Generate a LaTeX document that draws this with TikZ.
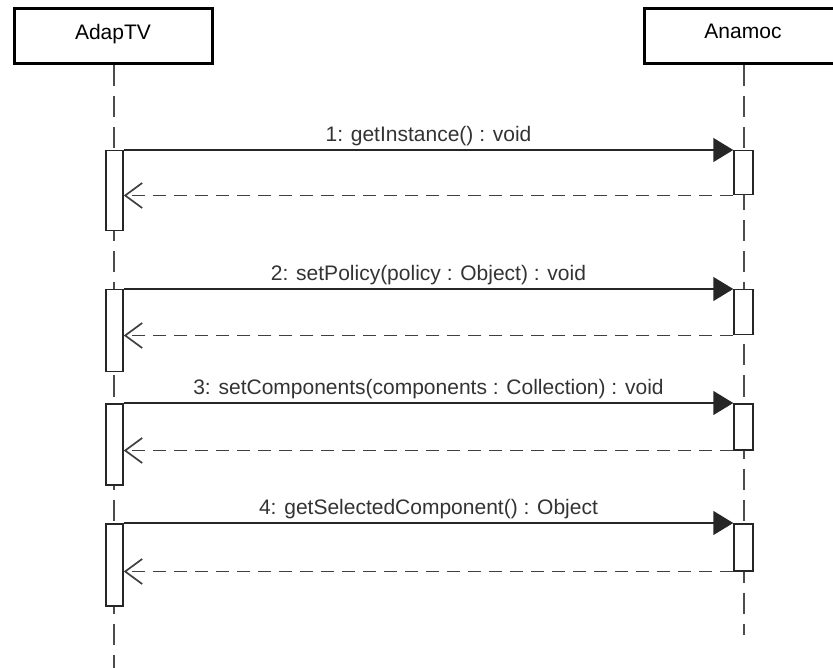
\documentclass[tikz,border=0pt]{standalone}
\usepackage{fontspec}
\setmainfont{Liberation Sans}
\usetikzlibrary{arrows.meta,positioning}

\begin{document}
\begin{tikzpicture}[x=1pt, y=-1pt, font=\fontsize{21}{25}\selectfont,
  obj/.style={draw, line width=3pt, minimum width=198pt, minimum height=55pt, inner sep=0pt},
  life/.style={draw=black!70, line width=1.8pt, dash pattern=on 21pt off 10pt},
  act/.style={draw=black!85, fill=white, line width=1.5pt, minimum width=17pt, inner sep=0pt, anchor=north},
  call/.style={draw=black!85, line width=1.5pt, -{Triangle[length=20pt,width=24pt]}},
  reply/.style={draw=black!75, line width=1.7pt, dash pattern=on 13pt off 8pt, -{Straight Barb[length=17pt,width=25pt]}},
  msg/.style={above, inner sep=3pt, text=black!80}]
  \useasboundingbox (0,0) rectangle (833,668);
  \clip (0,0) rectangle (833,668);
  % objects and lifelines
  \node[obj] (adap) at (113,36.5) {\raisebox{10pt}{AdapTV}};
  \node[obj] (anam) at (743,36.5) {\raisebox{10pt}{Anamoc}};
  \coordinate (adapEnd) at (114,668);
  \coordinate (anamEnd) at (744,635);
  \draw[life] (adap.south -| adapEnd) -- (adapEnd);
  \draw[life] (anam.south -| anamEnd) -- (anamEnd);
  % activations and messages
  \foreach \n/\y/\hl/\hr/\txt in {1/150/80/44/{1: getInstance() : void},
      2/289/82/45/{2: setPolicy(policy : Object) : void},
      3/403/81/46/{3: setComponents(components : Collection) : void},
      4/523/82/47/{4: getSelectedComponent() : Object}} {
    \node[act, minimum height=\hl pt] (actL\n) at (114.5,\y) {};
    \node[act, minimum width=19pt, minimum height=\hr pt] (actR\n) at (743.5,\y) {};
    \draw[call] (actL\n.north east) -- node[msg, midway] {\txt} (actR\n.north west);
    \draw[reply] (actR\n.south west) -- (actL\n.east |- actR\n.south west);
  }
\end{tikzpicture}
\end{document}
